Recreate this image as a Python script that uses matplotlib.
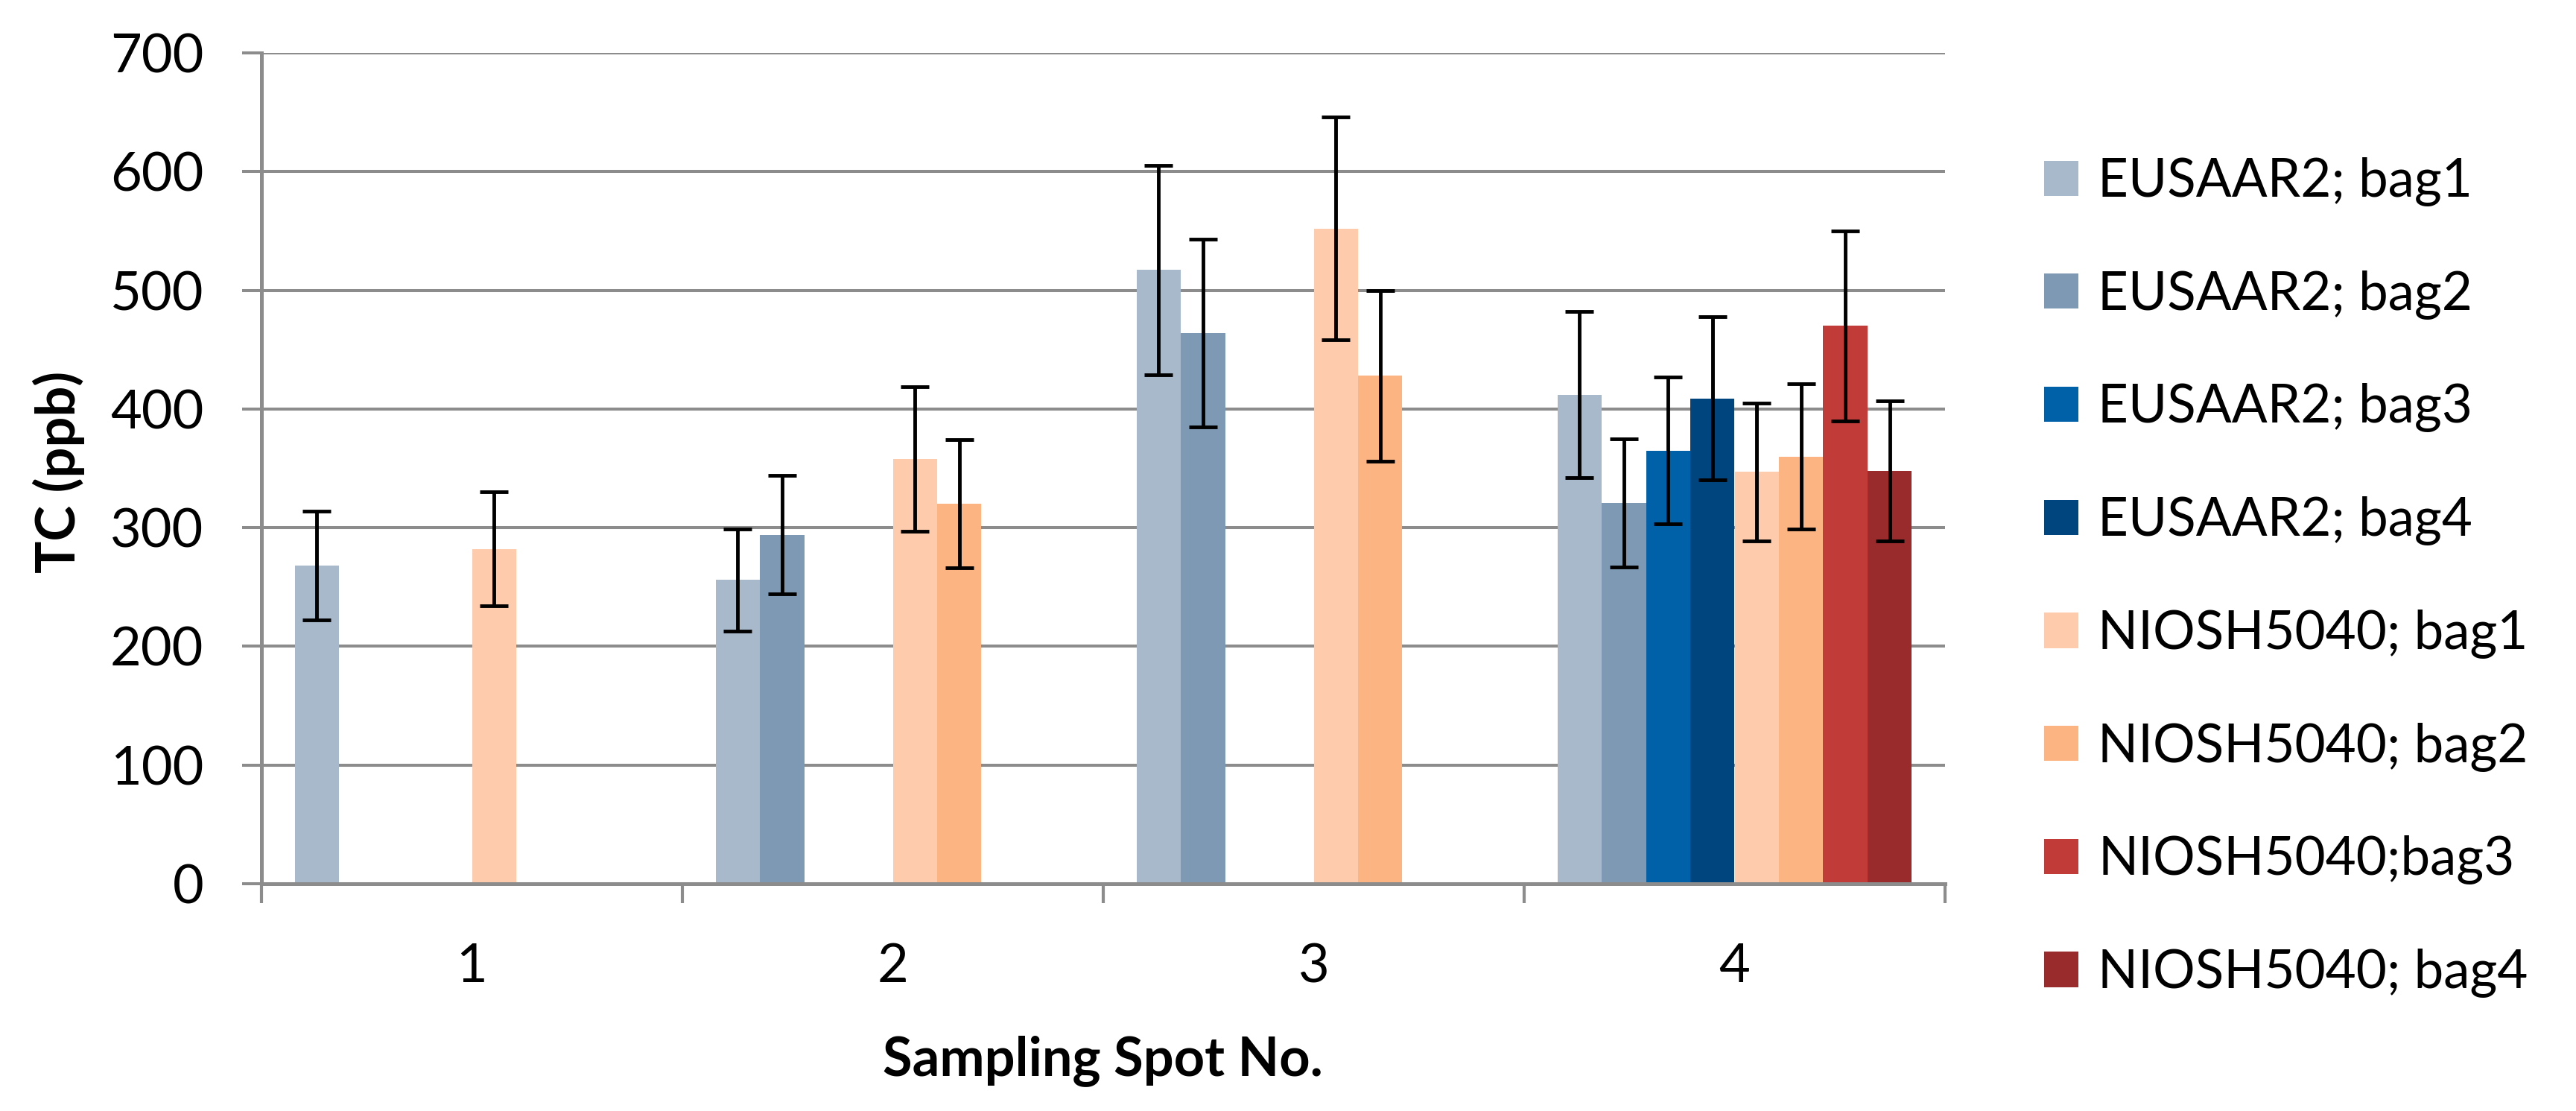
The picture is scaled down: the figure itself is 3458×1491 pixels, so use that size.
import numpy as np
import matplotlib
matplotlib.use("Agg")
import matplotlib.pyplot as plt

plt.rcParams['font.family'] = ['Lato', 'DejaVu Sans']

categories = ["1", "2", "3", "4"]
series_names = ["EUSAAR2; bag1", "EUSAAR2; bag2", "EUSAAR2; bag3", "EUSAAR2; bag4",
                "NIOSH5040; bag1", "NIOSH5040; bag2", "NIOSH5040;bag3", "NIOSH5040; bag4"]
nan = np.nan
eusaar2_bag1 = [268, 256, 517, 412]
eusaar2_bag2 = [nan, 294, 464, 321]
eusaar2_bag3 = [nan, nan, nan, 365]
eusaar2_bag4 = [nan, nan, nan, 409]
niosh_bag1 = [282, 358, 552, 347]
niosh_bag2 = [nan, 320, 428, 360]
niosh_bag3 = [nan, nan, nan, 470]
niosh_bag4 = [nan, nan, nan, 348]

eusaar2_bag1_err = [46, 43, 88, 70]
eusaar2_bag2_err = [nan, 50, 79, 54]
eusaar2_bag3_err = [nan, nan, nan, 62]
eusaar2_bag4_err = [nan, nan, nan, 69]
niosh_bag1_err = [48, 61, 94, 58]
niosh_bag2_err = [nan, 54, 72, 61]
niosh_bag3_err = [nan, nan, nan, 80]
niosh_bag4_err = [nan, nan, nan, 59]

values = [eusaar2_bag1, eusaar2_bag2, eusaar2_bag3, eusaar2_bag4,
          niosh_bag1, niosh_bag2, niosh_bag3, niosh_bag4]
errors = [eusaar2_bag1_err, eusaar2_bag2_err, eusaar2_bag3_err, eusaar2_bag4_err,
          niosh_bag1_err, niosh_bag2_err, niosh_bag3_err, niosh_bag4_err]
colors = ["#A8B9CB", "#7E99B4", "#0060A8", "#00457D",
          "#FECCAC", "#FDB483", "#C13B38", "#9A2B2C"]

W, H = 3458, 1491
fig = plt.figure(figsize=(W / 100, H / 100), dpi=100)
ax = fig.add_axes([351 / W, 1 - 1186 / H, (2611 - 351) / W, (1186 - 71) / H])

grey = "#8C8C8C"
n = len(values)
bw = 1 / 9.5
x = np.arange(len(categories))
handles = []
for i in range(n):
    v = np.array(values[i], dtype=float)
    e = np.array(errors[i], dtype=float)
    xi = x + (i - (n - 1) / 2) * bw
    m = np.isfinite(v)
    b = ax.bar(xi[m], v[m], width=bw, color=colors[i], label=series_names[i], zorder=2, linewidth=0)
    ax.errorbar(xi[m], v[m], yerr=e[m], fmt='none', ecolor='black', elinewidth=3.5,
                capsize=13.5, capthick=3.5, zorder=3)
    handles.append(b)

ax.set_xlim(-0.5, len(categories) - 0.5)
ax.set_ylim(0, 700)
ax.set_yticks(np.arange(0, 701, 100))
ax.set_xticks(np.arange(-0.5, len(categories), 1.0))
ax.set_xticklabels([])
ax.set_xticks(x, minor=True)
ax.set_xticklabels(categories, minor=True, fontsize=52)
ax.tick_params(axis='x', which='minor', length=0, pad=57)
ax.tick_params(axis='x', which='major', length=19, width=3, color=grey)
ax.tick_params(axis='y', length=19, width=2.9, color=grey, labelsize=52, pad=37)

ax.grid(axis='y', color=grey, linewidth=2.9, zorder=0)
ax.set_axisbelow(True)
for s in ['top', 'right']:
    ax.spines[s].set_visible(False)
for s in ['left', 'bottom']:
    ax.spines[s].set_color(grey)
    ax.spines[s].set_linewidth(3.6)

fig.text(79 / W, 1 - 633 / H, "TC (ppb)", rotation=90, ha='center', va='center',
         fontsize=52, fontweight='bold')
fig.text(1480 / W, 1 - 1424 / H, "Sampling Spot No.", ha='center', va='center',
         fontsize=52, fontweight='bold')

leg = fig.legend(handles=handles, loc='center left', bbox_to_anchor=(2744 / W, 1 - 775 / H),
                 frameon=False, fontsize=51, handlelength=0.65, handleheight=0.65,
                 handletextpad=0.37, labelspacing=1.21, borderpad=0, borderaxespad=0)

fig.savefig("out.png", dpi=100, facecolor='white')
